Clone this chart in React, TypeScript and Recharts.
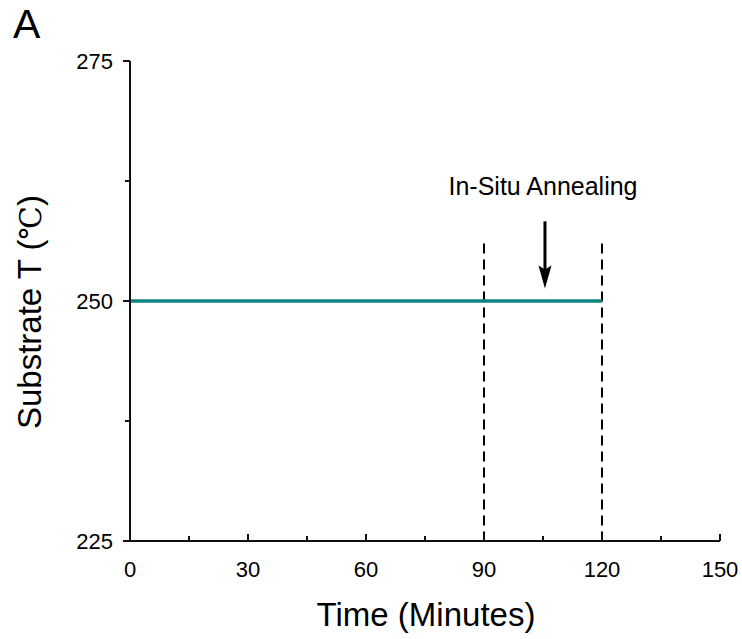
import { LineChart, Line, XAxis, YAxis, ReferenceLine, ReferenceDot, Label } from "recharts";

// substrate temperature profile
const timeMin = [0, 120];
const substrateT = [250, 250];

const xTicks = [0, 15, 30, 45, 60, 75, 90, 105, 120, 135, 150];
const yTicks = [225, 237.5, 250, 262.5, 275];

// annealing window + annotation
const annealBounds = [90, 120];
const annealTop = 256;
const arrowX = 105.5;
const arrowFrom = 258.3;
const arrowTo = 251.3;
const noteText = "In-Situ Annealing";
const noteX = 105;
const noteY = 262;

const FONT = "'Liberation Sans', Arial, sans-serif";

const data = timeMin.map((t, i) => ({ t, temp: substrateT[i] }));

const YTick = (props: any) => {
  const { x, y, payload } = props;
  const major = Number.isInteger(payload.value);
  return (
    <g>
      <line x1={x} x2={x - (major ? 7 : 5)} y1={y} y2={y} stroke="#111" strokeWidth={2} />
      {major && (
        <text x={x - 17} y={y} textAnchor="end" dominantBaseline="central" fontSize={22} fontFamily={FONT} fill="#000">
          {payload.value}
        </text>
      )}
    </g>
  );
};

const XTick = (props: any) => {
  const { x, y, payload } = props;
  const major = payload.value % 30 === 0;
  return (
    <g>
      <line x1={x} x2={x} y1={y} y2={y - (major ? 7 : 5)} stroke="#111" strokeWidth={2} />
      {major && (
        <text x={x} y={y + 36} textAnchor="middle" fontSize={22} fontFamily={FONT} fill="#000">
          {payload.value}
        </text>
      )}
    </g>
  );
};

const Arrow = (props: any) => {
  const { x1, y1, x2, y2 } = props;
  return (
    <g>
      <line x1={x1} y1={y1} x2={x2} y2={y2 - 16} stroke="#000" strokeWidth={3} />
      <polygon points={`${x2 - 6.5},${y2 - 23} ${x2},${y2 - 19} ${x2 + 6.5},${y2 - 23} ${x2},${y2}`} fill="#000" />
    </g>
  );
};

const Note = (props: any) => (
  <text x={props.cx} y={props.cy} textAnchor="middle" dominantBaseline="central" fontSize={25} fontFamily={FONT} fill="#000">
    {noteText}
  </text>
);

export default function App() {
  return (
    <div style={{ position: "absolute", left: 0, top: 0, width: 742, height: 639, background: "#fff" }}>
      <div style={{ position: "absolute", left: 13, top: 4, fontSize: 41, lineHeight: "41px", fontFamily: FONT, color: "#000" }}>A</div>
      <LineChart width={742} height={639} data={data} margin={{ top: 61, right: 22, left: 70, bottom: 58 }}>
        <XAxis
          dataKey="t"
          type="number"
          domain={[0, 150]}
          ticks={xTicks}
          interval={0}
          height={40}
          tickSize={0}
          tickMargin={0}
          tickLine={false}
          tick={<XTick />}
          axisLine={{ stroke: "#111", strokeWidth: 2 }}
        >
          <Label
            content={(p: any) => (
              <text
                x={p.viewBox.x + p.viewBox.width / 2 + 1}
                y={p.viewBox.y + 85}
                textAnchor="middle"
                fontSize={33}
                fontFamily={FONT}
                fill="#000"
              >
                Time (Minutes)
              </text>
            )}
          />
        </XAxis>
        <YAxis
          type="number"
          domain={[225, 275]}
          ticks={yTicks}
          interval={0}
          width={60}
          tickSize={0}
          tickMargin={0}
          tickLine={false}
          tick={<YTick />}
          axisLine={{ stroke: "#111", strokeWidth: 2 }}
        >
          <Label
            content={(p: any) => {
              const cx = p.viewBox.x - 29;
              const cy = p.viewBox.y + p.viewBox.height / 2 + 11;
              return (
                <text
                  x={cx}
                  y={cy}
                  transform={`rotate(-90 ${cx} ${cy})`}
                  textAnchor="middle"
                  fontSize={33}
                  fontFamily={FONT}
                  fill="#000"
                >
                  Substrate T (<tspan fontFamily="'DejaVu Serif', serif" fontSize={30}>℃</tspan>)
                </text>
              );
            }}
          />
        </YAxis>
        {annealBounds.map((b) => (
          <ReferenceLine
            key={b}
            segment={[{ x: b, y: annealTop }, { x: b, y: 225 }]}
            stroke="#000"
            strokeWidth={2}
            strokeDasharray="10 6"
          />
        ))}
        <ReferenceLine segment={[{ x: arrowX, y: arrowFrom }, { x: arrowX, y: arrowTo }]} shape={Arrow} />
        <ReferenceDot x={noteX} y={noteY} r={0} shape={Note} />
        <Line
          dataKey="temp"
          stroke="#0e8480"
          strokeWidth={3.5}
          dot={false}
          isAnimationActive={false}
        />
      </LineChart>
    </div>
  );
}
